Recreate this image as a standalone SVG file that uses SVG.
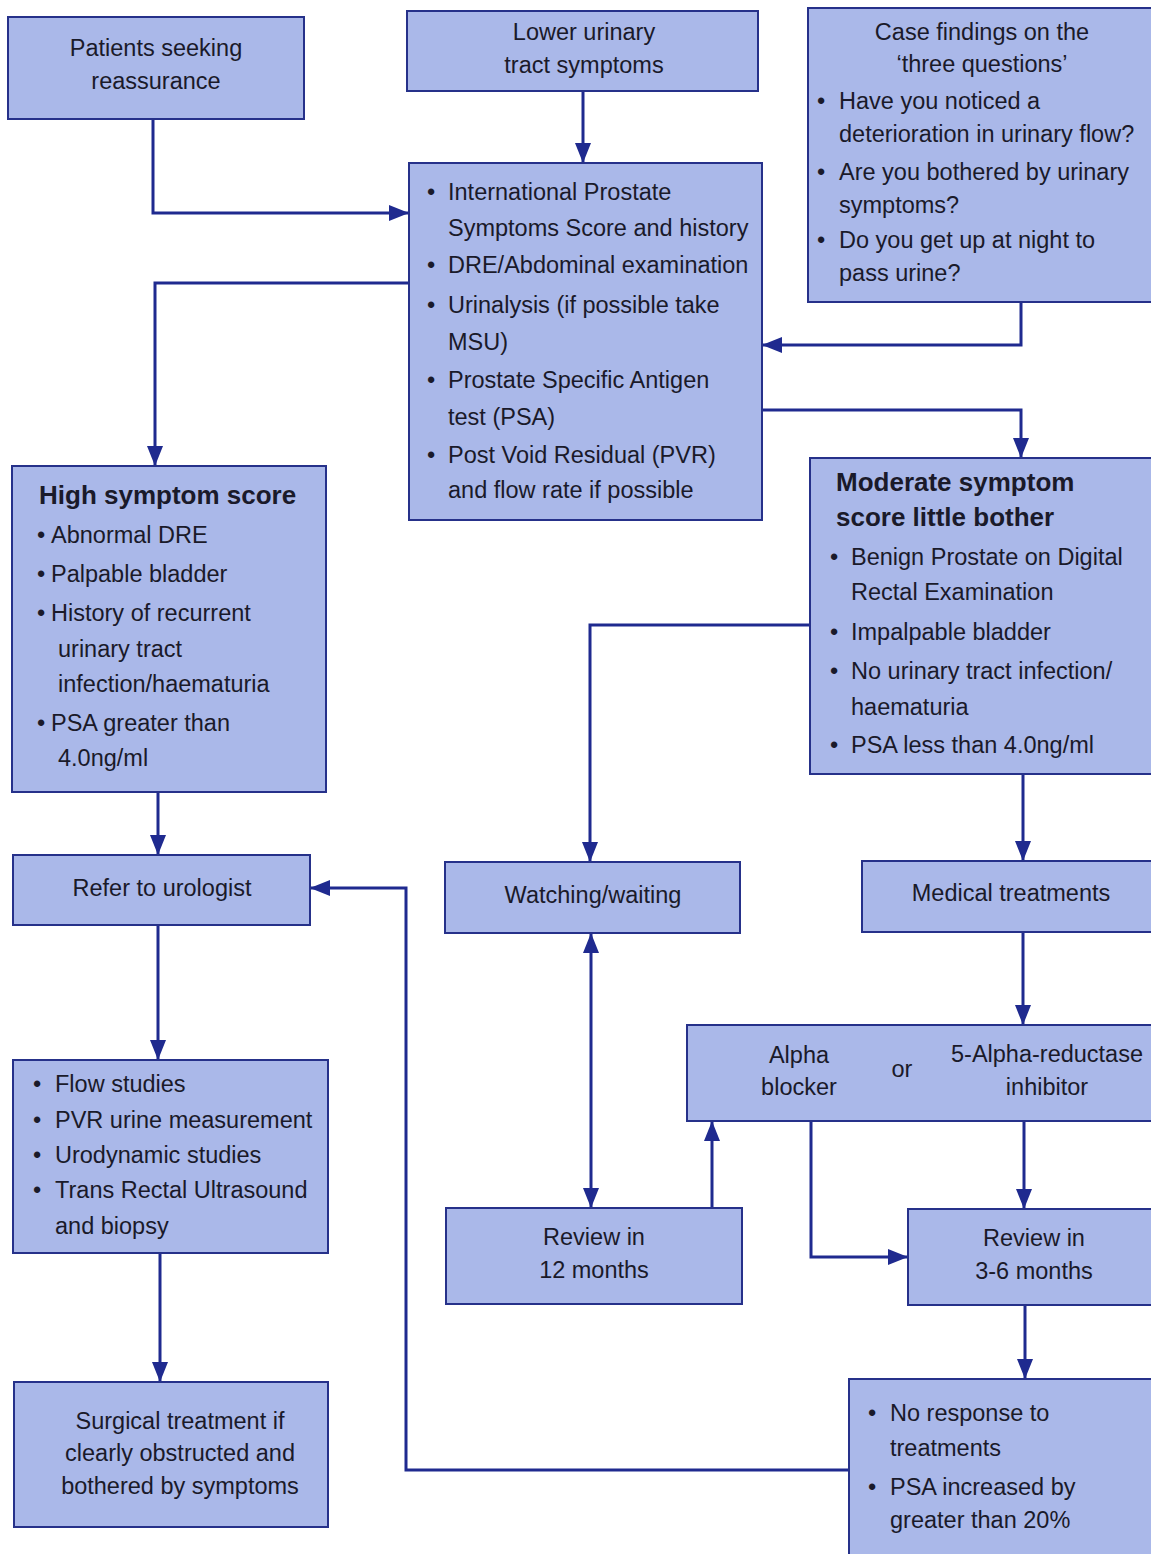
<svg xmlns="http://www.w3.org/2000/svg" width="1151" height="1554" viewBox="0 0 1151 1554">
<defs>
<marker id="arr" markerUnits="userSpaceOnUse" markerWidth="20" markerHeight="16" refX="20" refY="8" orient="auto-start-reverse">
<path d="M0,0 L20,8 L0,16 z" fill="#1f2a8f"/>
</marker>
<style>
.box{fill:#aab8e9;stroke:#26318a;stroke-width:2}
text{font-family:"Liberation Sans",Arial,sans-serif;font-size:23.5px;fill:#1a1a2a}
.c{text-anchor:middle}
.b{font-weight:bold;font-size:26px}
.con path{fill:none;stroke:#1f2a8f;stroke-width:3}
</style>
</defs>
<rect width="1151" height="1554" fill="#ffffff"/>
<g class="con" id="connectors">
<path d="M153,119 V213 H409" marker-end="url(#arr)"/>
<path d="M583,91 V163" marker-end="url(#arr)"/>
<path d="M1021,302 V345 H762" marker-end="url(#arr)"/>
<path d="M409,283 H155 V466" marker-end="url(#arr)"/>
<path d="M762,410 H1021 V458" marker-end="url(#arr)"/>
<path d="M158,792 V855" marker-end="url(#arr)"/>
<path d="M810,625 H590 V862" marker-end="url(#arr)"/>
<path d="M1023,774 V861" marker-end="url(#arr)"/>
<path d="M1023,932 V1025" marker-end="url(#arr)"/>
<path d="M158,925 V1060" marker-end="url(#arr)"/>
<path d="M160,1253 V1382" marker-end="url(#arr)"/>
<path d="M591,933 V1208" marker-start="url(#arr)" marker-end="url(#arr)"/>
<path d="M712,1208 V1121" marker-end="url(#arr)"/>
<path d="M811,1121 V1257 H908" marker-end="url(#arr)"/>
<path d="M1024,1121 V1209" marker-end="url(#arr)"/>
<path d="M1025,1305 V1379" marker-end="url(#arr)"/>
<path d="M849,1470 H406 V888 H310" marker-end="url(#arr)"/>
</g>
<g id="patients">
<rect class="box" x="8" y="17" width="296" height="102"/>
<text class="c" x="156" y="56">Patients seeking</text>
<text class="c" x="156" y="89">reassurance</text>
</g>
<g id="luts">
<rect class="box" x="407" y="11" width="351" height="80"/>
<text class="c" x="584" y="40">Lower urinary</text>
<text class="c" x="584" y="73">tract symptoms</text>
</g>
<g id="case">
<rect class="box" x="808" y="8" width="350" height="294"/>
<text class="c" x="982" y="40">Case findings on the</text>
<text class="c" x="982" y="72">‘three questions’</text>
<text x="817" y="109">•</text><text x="839" y="109">Have you noticed a</text>
<text x="839" y="142">deterioration in urinary flow?</text>
<text x="817" y="180">•</text><text x="839" y="180">Are you bothered by urinary</text>
<text x="839" y="213">symptoms?</text>
<text x="817" y="248">•</text><text x="839" y="248">Do you get up at night to</text>
<text x="839" y="281">pass urine?</text>
</g>
<g id="assessment">
<rect class="box" x="409" y="163" width="353" height="357"/>
<text x="427" y="200">•</text><text x="448" y="200">International Prostate</text>
<text x="448" y="236">Symptoms Score and history</text>
<text x="427" y="273">•</text><text x="448" y="273">DRE/Abdominal examination</text>
<text x="427" y="313">•</text><text x="448" y="313">Urinalysis (if possible take</text>
<text x="448" y="350">MSU)</text>
<text x="427" y="388">•</text><text x="448" y="388">Prostate Specific Antigen</text>
<text x="448" y="425">test (PSA)</text>
<text x="427" y="463">•</text><text x="448" y="463">Post Void Residual (PVR)</text>
<text x="448" y="498">and flow rate if possible</text>
</g>
<g id="high">
<rect class="box" x="12" y="466" width="314" height="326"/>
<text class="b" x="39" y="504">High symptom score</text>
<text x="37" y="543">•</text><text x="51" y="543">Abnormal DRE</text>
<text x="37" y="582">•</text><text x="51" y="582">Palpable bladder</text>
<text x="37" y="621">•</text><text x="51" y="621">History of recurrent</text>
<text x="58" y="657">urinary tract</text>
<text x="58" y="692">infection/haematuria</text>
<text x="37" y="731">•</text><text x="51" y="731">PSA greater than</text>
<text x="58" y="766">4.0ng/ml</text>
</g>
<g id="moderate">
<rect class="box" x="810" y="458" width="348" height="316"/>
<text class="b" x="836" y="491">Moderate symptom</text>
<text class="b" x="836" y="526">score little bother</text>
<text x="830" y="565">•</text><text x="851" y="565">Benign Prostate on Digital</text>
<text x="851" y="600">Rectal Examination</text>
<text x="830" y="640">•</text><text x="851" y="640">Impalpable bladder</text>
<text x="830" y="679">•</text><text x="851" y="679">No urinary tract infection/</text>
<text x="851" y="715">haematuria</text>
<text x="830" y="753">•</text><text x="851" y="753">PSA less than 4.0ng/ml</text>
</g>
<g id="refer">
<rect class="box" x="13" y="855" width="297" height="70"/>
<text class="c" x="162" y="896">Refer to urologist</text>
</g>
<g id="watching">
<rect class="box" x="445" y="862" width="295" height="71"/>
<text class="c" x="593" y="903">Watching/waiting</text>
</g>
<g id="medical">
<rect class="box" x="862" y="861" width="296" height="71"/>
<text class="c" x="1011" y="901">Medical treatments</text>
</g>
<g id="alpha">
<rect class="box" x="687" y="1025" width="471" height="96"/>
<text class="c" x="799" y="1063">Alpha</text>
<text class="c" x="799" y="1095">blocker</text>
<text class="c" x="902" y="1077">or</text>
<text class="c" x="1047" y="1062">5-Alpha-reductase</text>
<text class="c" x="1047" y="1095">inhibitor</text>
</g>
<g id="flow">
<rect class="box" x="13" y="1060" width="315" height="193"/>
<text x="33" y="1092">•</text><text x="55" y="1092">Flow studies</text>
<text x="33" y="1128">•</text><text x="55" y="1128">PVR urine measurement</text>
<text x="33" y="1163">•</text><text x="55" y="1163">Urodynamic studies</text>
<text x="33" y="1198">•</text><text x="55" y="1198">Trans Rectal Ultrasound</text>
<text x="55" y="1234">and biopsy</text>
</g>
<g id="review12">
<rect class="box" x="446" y="1208" width="296" height="96"/>
<text class="c" x="594" y="1245">Review in</text>
<text class="c" x="594" y="1278">12 months</text>
</g>
<g id="review36">
<rect class="box" x="908" y="1209" width="250" height="96"/>
<text class="c" x="1034" y="1246">Review in</text>
<text class="c" x="1034" y="1279">3-6 months</text>
</g>
<g id="surgical">
<rect class="box" x="14" y="1382" width="314" height="145"/>
<text class="c" x="180" y="1429">Surgical treatment if</text>
<text class="c" x="180" y="1461">clearly obstructed and</text>
<text class="c" x="180" y="1494">bothered by symptoms</text>
</g>
<g id="noresponse">
<rect class="box" x="849" y="1379" width="309" height="185"/>
<text x="868" y="1421">•</text><text x="890" y="1421">No response to</text>
<text x="890" y="1456">treatments</text>
<text x="868" y="1495">•</text><text x="890" y="1495">PSA increased by</text>
<text x="890" y="1528">greater than 20%</text>
</g>
</svg>
